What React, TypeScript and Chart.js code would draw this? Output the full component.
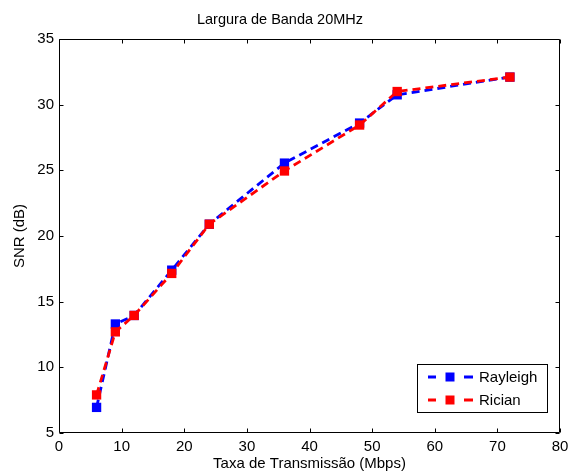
import { useEffect, useRef } from 'react';
import { Chart, registerables } from 'chart.js';

Chart.register(...registerables);

const rates = [6, 9, 12, 18, 24, 36, 48, 54, 72];
const rayleighSNR = [6.95, 13.3, 13.95, 17.4, 20.9, 25.55, 28.6, 30.75, 32.1];
const ricianSNR = [7.9, 12.7, 13.95, 17.15, 20.9, 24.95, 28.45, 31.0, 32.1];
const seriesNames = ['Rayleigh', 'Rician'];
const seriesColors = ['#0000ff', '#ff0000'];
const chartTitle = 'Largura de Banda 20MHz';
const xLabel = 'Taxa de Transmissão (Mbps)';
const yLabel = 'SNR (dB)';
const xRange = [0, 80];
const xStep = 10;
const yRange = [5, 35];
const yStep = 5;

const FONT = "'Liberation Sans', Arial, Helvetica, sans-serif";

const framePlugin = {
  id: 'frame',
  beforeDatasetsDraw(chart: any) {
    const { ctx, chartArea: a, scales } = chart;
    ctx.save();
    ctx.strokeStyle = '#000';
    ctx.lineWidth = 1;
    ctx.beginPath();
    const L = Math.round(a.left) + 0.5;
    const R = Math.round(a.right) - 0.5;
    const T = Math.round(a.top) + 0.5;
    const B = Math.round(a.bottom) - 0.5;
    ctx.rect(L, T, R - L, B - T);
    const tl = 4;
    scales.x.ticks.forEach((t: any) => {
      const p = Math.round(scales.x.getPixelForValue(t.value)) + 0.5;
      ctx.moveTo(p, B);
      ctx.lineTo(p, B - tl);
      ctx.moveTo(p, T);
      ctx.lineTo(p, T + tl);
    });
    scales.y.ticks.forEach((t: any) => {
      const p = Math.round(scales.y.getPixelForValue(t.value)) + 0.5;
      ctx.moveTo(L, p);
      ctx.lineTo(L + tl, p);
      ctx.moveTo(R, p);
      ctx.lineTo(R - tl, p);
    });
    ctx.stroke();
    ctx.restore();
  },
};

const legendPlugin = {
  id: 'legendBox',
  afterDraw(chart: any) {
    const { ctx, chartArea: a } = chart;
    const bx = Math.round(a.right) - 143;
    const by = Math.round(a.bottom) - 69;
    const bw = 130;
    const bh = 48;
    ctx.save();
    ctx.fillStyle = '#fff';
    ctx.fillRect(bx, by, bw, bh);
    ctx.strokeStyle = '#000';
    ctx.lineWidth = 1;
    ctx.strokeRect(bx + 0.5, by + 0.5, bw, bh);
    chart.data.datasets.forEach((ds: any, i: number) => {
      const cy = by + 13 + i * 23;
      ctx.strokeStyle = ds.borderColor;
      ctx.lineWidth = 2.8;
      ctx.beginPath();
      ctx.moveTo(bx + 11, cy);
      ctx.lineTo(bx + 19, cy);
      ctx.moveTo(bx + 47, cy);
      ctx.lineTo(bx + 56, cy);
      ctx.stroke();
      ctx.fillStyle = ds.backgroundColor;
      ctx.fillRect(bx + 33 - 4.5, cy - 4.5, 9, 9);
      ctx.fillStyle = '#000';
      ctx.font = `15px ${FONT}`;
      ctx.textBaseline = 'middle';
      ctx.textAlign = 'left';
      ctx.fillText(ds.label, bx + 62, cy + 1);
    });
    ctx.restore();
  },
};

export default function App() {
  const ref = useRef<HTMLCanvasElement>(null);

  useEffect(() => {
    document.body.style.margin = '0';
    const canvas = ref.current;
    if (!canvas) return;
    const seriesValues = [rayleighSNR, ricianSNR];
    const chart = new Chart(canvas, {
      type: 'line',
      data: {
        datasets: seriesValues.map((vals, s) => ({
          label: seriesNames[s],
          data: rates.map((x, i) => ({ x, y: vals[i] })),
          borderColor: seriesColors[s],
          backgroundColor: seriesColors[s],
          borderWidth: 2.8,
          borderDash: [8, 5],
          pointStyle: 'rect',
          pointRadius: 6.6,
          pointBorderWidth: 0,
          pointBackgroundColor: seriesColors[s],
          tension: 0,
          order: s === 0 ? 1 : 0,
        })),
      },
      options: {
        responsive: false,
        animation: false,
        devicePixelRatio: 1,
        layout: { padding: { left: 0, right: 9, top: 0, bottom: 0 } },
        plugins: {
          legend: { display: false },
          tooltip: { enabled: false },
          title: {
            display: true,
            text: chartTitle,
            color: '#000',
            font: { family: FONT, size: 14.5, weight: 'normal' },
            padding: { top: 11, bottom: 10.6 },
          },
        },
        scales: {
          x: {
            type: 'linear',
            min: xRange[0],
            max: xRange[1],
            grid: { display: false, drawTicks: false },
            border: { display: false },
            ticks: {
              stepSize: xStep,
              color: '#000',
              font: { family: FONT, size: 15 },
              padding: 5,
              maxRotation: 0,
            },
            title: {
              display: true,
              text: xLabel,
              color: '#000',
              font: { family: FONT, size: 15 },
              padding: { top: 0, bottom: 0 },
            },
            afterFit: (s: any) => {
              s.height = 40;
              s.paddingLeft = 0;
              s.paddingRight = 0;
            },
          },
          y: {
            type: 'linear',
            min: yRange[0],
            max: yRange[1],
            grid: { display: false, drawTicks: false },
            border: { display: false },
            ticks: {
              stepSize: yStep,
              color: '#000',
              font: { family: FONT, size: 15 },
              padding: 5,
            },
            title: {
              display: true,
              text: yLabel,
              color: '#000',
              font: { family: FONT, size: 15 },
              padding: { top: 11, bottom: 0 },
            },
            afterFit: (s: any) => {
              s.width = 59;
              s.paddingTop = 0;
              s.paddingBottom = 0;
            },
          },
        },
      } as any,
      plugins: [framePlugin, legendPlugin],
    });
    return () => chart.destroy();
  }, []);

  return (
    <div style={{ position: 'fixed', left: 0, top: 0, width: 569, height: 473, background: '#fff' }}>
      <canvas ref={ref} width={569} height={473} />
    </div>
  );
}
